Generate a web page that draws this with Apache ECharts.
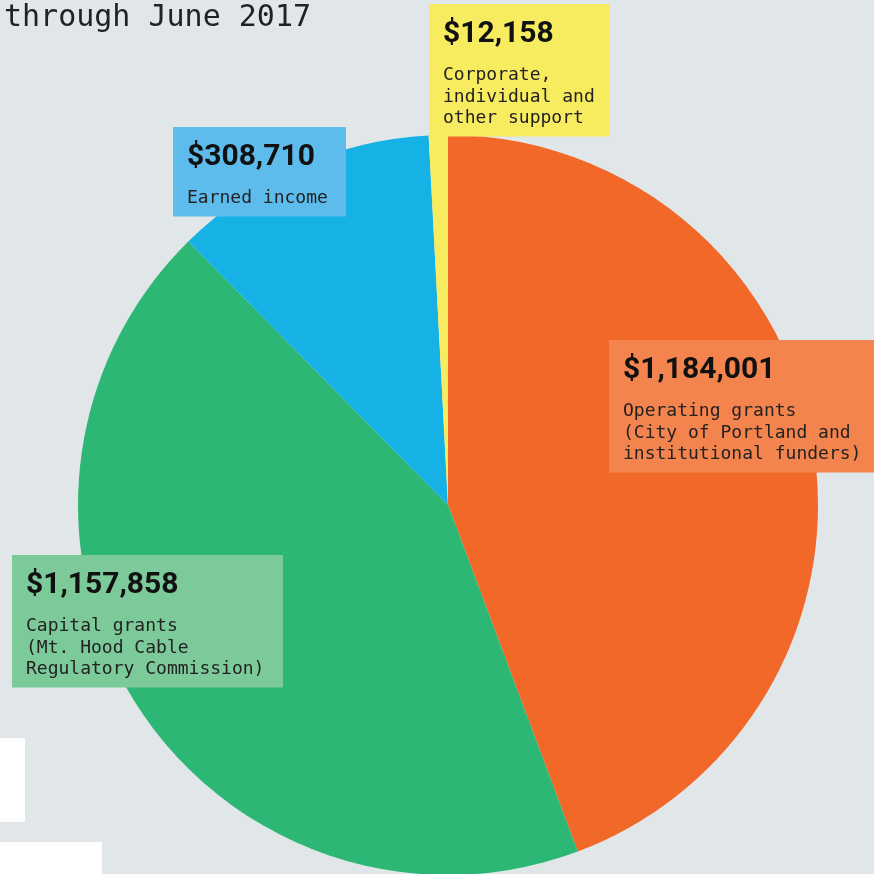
<!DOCTYPE html>
<html>
<head>
<meta charset="utf-8">
<script src="https://cdn.jsdelivr.net/npm/echarts@6/dist/echarts.min.js"></script>
<style>
    html, body { margin: 0; padding: 0; background: #e1e6e9; }
    #chart { width: 874px; height: 874px; }
</style>
</head>
<body>
<div id="chart"></div>
<script>
// revenue sources, fiscal year through June 2017
const values = [1184001, 1157858, 308710, 12158];
const descriptions = [
    ['Operating grants', '(City of Portland and', 'institutional funders)'],
    ['Capital grants', '(Mt. Hood Cable', 'Regulatory Commission)'],
    ['Earned income'],
    ['Corporate,', 'individual and', 'other support']
];
const sliceColors = ['#f26829', '#2db774', '#16b1e5', '#f7ec60'];
const boxColors = ['#f4844e', '#7cc999', '#5ebcec', '#f7ec60'];

// label boxes: [left, top, width]
const boxes = [
    [609, 340, 280],
    [12, 555, 271],
    [173, 127, 173],
    [429, 4, 181]
];

const chart = echarts.init(document.getElementById('chart'));

const option = {
    backgroundColor: '#e1e6e9',
    animation: false,
    title: {
        text: 'through June 2017',
        left: 4,
        top: 3,
        padding: 0,
        textStyle: {
            fontFamily: 'DejaVu Sans Mono',
            fontSize: 30,
            fontWeight: 'normal',
            color: '#222',
            lineHeight: 30
        }
    },
    graphic: [
        {type: 'rect', shape: {x: 0, y: 738, width: 25, height: 84}, style: {fill: '#fff'}},
        {type: 'rect', shape: {x: 0, y: 842, width: 102, height: 40}, style: {fill: '#fff'}}
    ],
    series: [{
        type: 'pie',
        center: [448, 505],
        radius: 370,
        startAngle: 90,
        clockwise: true,
        minAngle: 3,
        avoidLabelOverlap: false,
        labelLine: {show: false},
        label: {
            show: true,
            position: 'inside',
            overflow: 'none',
            padding: [10, 0, 7, 14],
            formatter: function (p) {
                const lines = descriptions[p.dataIndex].map(l => '{d|' + l + '}');
                return '{v|$' + p.value.toLocaleString('en-US') + '}\n{s| }\n' + lines.join('\n');
            },
            rich: {
                v: {
                    fontFamily: 'Roboto',
                    fontWeight: 'bold',
                    fontSize: 30,
                    lineHeight: 40,
                    color: '#111'
                },
                s: {fontSize: 6, lineHeight: 11},
                d: {
                    fontFamily: 'DejaVu Sans Mono',
                    fontSize: 18,
                    lineHeight: 21.5,
                    color: '#222'
                }
            }
        },
        labelLayout: function (params) {
            const b = boxes[params.dataIndex];
            return {x: b[0], y: b[1], align: 'left', verticalAlign: 'top'};
        },
        data: values.map((v, i) => ({
            value: v,
            name: descriptions[i].join(' '),
            itemStyle: {color: sliceColors[i]},
            label: {
                backgroundColor: boxColors[i],
                width: boxes[i][2] - 14
            }
        }))
    }]
};

chart.setOption(option);
</script>
</body>
</html>
